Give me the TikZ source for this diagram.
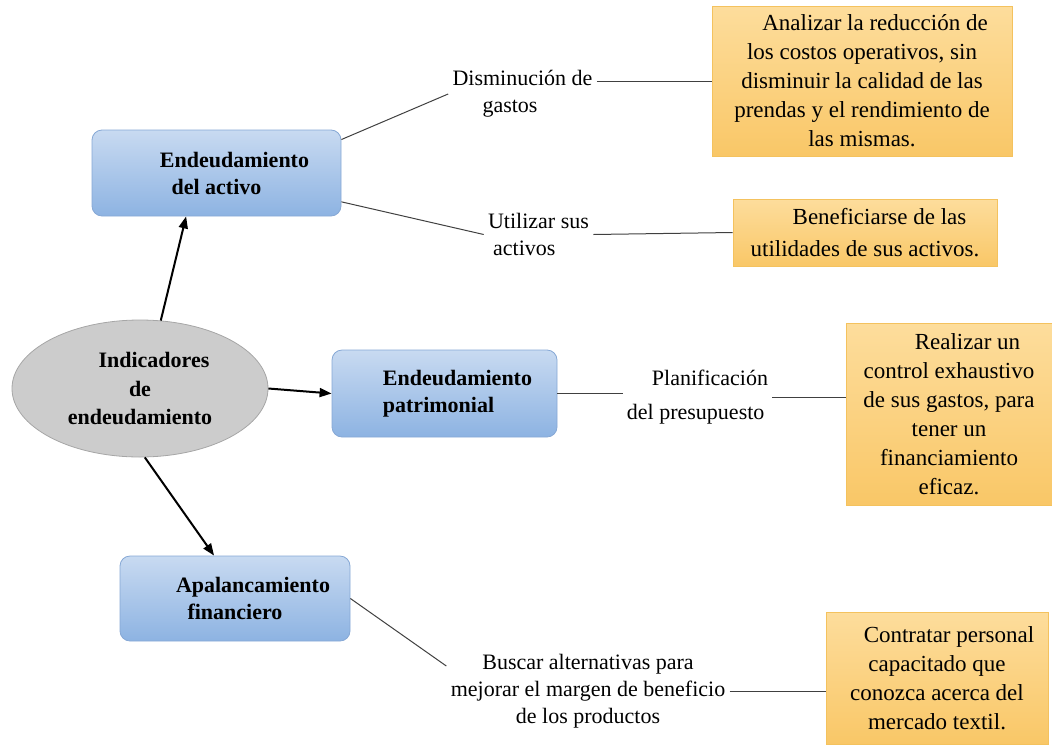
\documentclass[tikz,border=0pt]{standalone}
\usepackage{fontspec}
\setmainfont{Liberation Serif}
\usetikzlibrary{arrows.meta, shapes.geometric}
\definecolor{boxtop}{HTML}{C8DAF1}
\definecolor{boxbot}{HTML}{8DB3E2}
\definecolor{boxline}{HTML}{86A8D5}
\definecolor{goaltop}{HTML}{FDDD9C}
\definecolor{goalbot}{HTML}{F9C767}
\definecolor{goalline}{HTML}{F4C25E}

\begin{document}
\begin{tikzpicture}[
      x=0.5pt, y=-0.5pt,
      box/.style={rectangle, draw=boxline, rounded corners=5pt, top color=boxtop, bottom color=boxbot, font=\fontsize{11}{13.5}\selectfont\bfseries, align=center, inner sep=2pt},
      goal/.style={rectangle, draw=goalline, top color=goaltop, bottom color=goalbot, font=\fontsize{11.5}{14.5}\selectfont, align=center, inner sep=2pt},
      note/.style={font=\fontsize{11}{13.5}\selectfont, inner sep=2pt},
      arrow/.style={-{Triangle[length=6pt, width=4.5pt]}, line width=1pt},
      link/.style={draw=black!75, line width=0.5pt}
    ]

    \useasboundingbox (0,0) rectangle (1052,744);

    % Nodes
    \node[ellipse, draw=gray!70, fill=gray!40, minimum width=128pt, minimum height=68.5pt, inner sep=0pt, align=center, font=\fontsize{11}{14.25}\selectfont\bfseries] (indic) at (140,388.5) {\hspace*{14pt}Indicadores\\de\\endeudamiento};

    \node[box, minimum width=124.5pt, minimum height=43pt] (activo) at (216.5,173) {\hspace*{18pt}Endeudamiento\\del activo};
    \node[box, minimum width=112.5pt, minimum height=43.5pt, align=left] (patrim) at (444.5,393.5) {\hspace*{13pt}Endeudamiento\\\hspace*{13pt}patrimonial};
    \node[box, minimum width=115pt, minimum height=42.5pt] (apal) at (235,598.5) {\hspace*{18pt}Apalancamiento\\financiero};

    \node[goal, minimum width=150pt, minimum height=75pt] (obj1) at (862,81) {\hspace*{13pt}Analizar la reducción de\\los costos operativos, sin\\disminuir la calidad de las\\prendas y el rendimiento de\\las mismas.};
    \node[goal, minimum width=132pt, minimum height=33.5pt] (obj2) at (865,232.5) {\hspace*{14.5pt}Beneficiarse de las\\[1.5pt]utilidades de sus activos.};
    \node[goal, minimum width=103pt, minimum height=91pt] (obj3) at (949,414) {\hspace*{18.5pt}Realizar un\\control exhaustivo\\de sus gastos, para\\tener un\\financiamiento\\eficaz.};
    \node[goal, minimum width=111pt, minimum height=66pt] (obj4) at (937,678) {\hspace*{12pt}Contratar personal\\capacitado que\\conozca acerca del\\mercado textil.};

    \node[note, align=left] (dismin) at (522.5,94) {Disminución de\\\hspace*{15pt}gastos};
    \node[note, align=left] (util) at (538.5,234.5) {Utilizar sus\\\hspace*{2.5pt}activos};
    \node[note, align=left, font=\fontsize{11}{17}\selectfont] (plan) at (697.5,397) {\hspace*{12.5pt}Planificación\\del presupuesto};
    \node[note, align=center] (busc) at (588,691) {Buscar alternativas para\\mejorar el margen de beneficio\\de los productos};

    % Links
    \draw[link] (activo.15) -- (dismin.west);
    \draw[link] (dismin.east |- obj1.west) -- (obj1.west);
    \draw[link] (activo.-13) -- (util.west);
    \draw[link] (util.east) -- (obj2.west);
    \draw[link] (patrim.east) -- (patrim.east -| plan.west);
    \draw[link] (plan.east) -- (plan.east -| obj3.west);
    \draw[link] (apal.east) -- (busc.170);
    \draw[link] (busc.east) -- (busc.east -| obj4.west);

    % Arrows
    \draw[arrow] (indic.73) -- (activo.-125);
    \draw[arrow] (indic.east) -- (patrim.west);
    \draw[arrow] (indic.-86) -- (apal.116);

\end{tikzpicture}
\end{document}
